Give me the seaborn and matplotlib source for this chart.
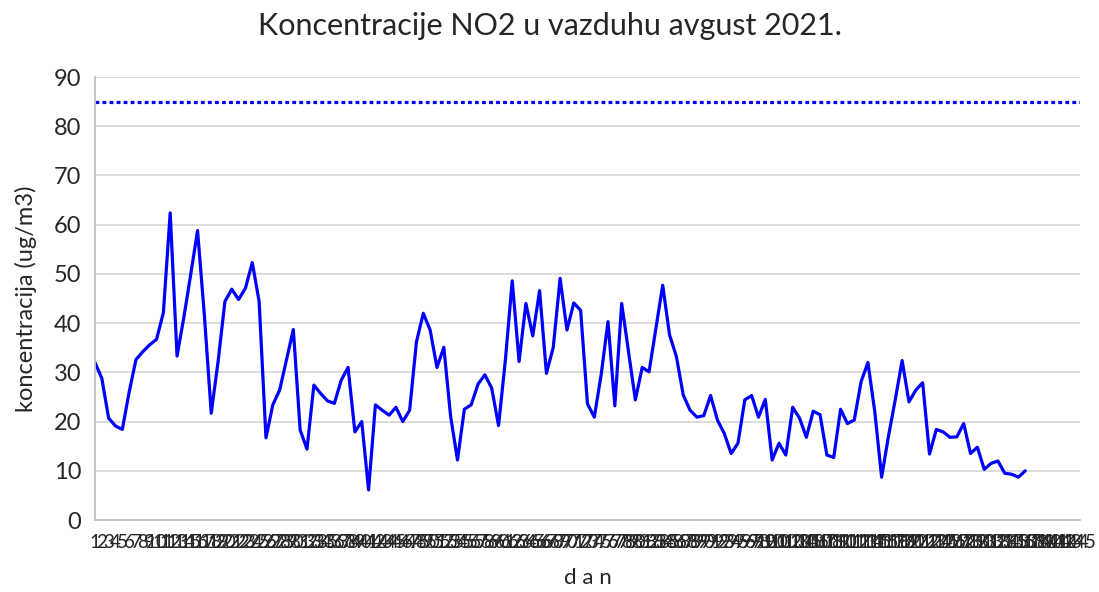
import numpy as np
import pandas as pd
import matplotlib
matplotlib.use("Agg")
import matplotlib.pyplot as plt
import seaborn as sns

# ── Data ─────────────────────────────────────────────────────────────────────
koncentracija = [
    32.0, 28.8, 20.7, 19.1, 18.4, 26.0, 32.6, 34.2, 35.6, 36.7,
    42.1, 62.4, 33.3, 41.2, 49.9, 58.8, 41.5, 21.7, 32.2, 44.4,
    46.9, 44.8, 47.1, 52.3, 44.4, 16.7, 23.4, 26.4, 32.6, 38.7,
    18.3, 14.4, 27.4, 25.7, 24.2, 23.7, 28.4, 31.0, 17.9, 20.0,
    6.1, 23.4, 22.3, 21.3, 22.9, 20.0, 22.3, 36.2, 42.0, 38.6,
    31.0, 35.1, 21.0, 12.2, 22.5, 23.4, 27.6, 29.5, 26.8, 19.2,
    32.5, 48.6, 32.2, 44.0, 37.4, 46.6, 29.8, 35.1, 49.1, 38.6,
    44.1, 42.6, 23.6, 20.9, 29.5, 40.3, 23.2, 44.0, 34.2, 24.4,
    31.0, 30.1, 38.9, 47.7, 37.6, 33.2, 25.4, 22.3, 20.9, 21.2,
    25.3, 20.3, 17.6, 13.5, 15.6, 24.4, 25.3, 20.9, 24.5, 12.2,
    15.6, 13.2, 22.9, 20.7, 16.8, 22.1, 21.4, 13.2, 12.7, 22.5,
    19.6, 20.3, 28.1, 32.0, 22.0, 8.7, 17.0, 24.5, 32.4, 24.0,
    26.4, 27.9, 13.4, 18.4, 17.9, 16.8, 16.9, 19.6, 13.5, 14.8,
    10.3, 11.5, 12.0, 9.5, 9.3, 8.7, 10.0,
]
dani = list(range(1, len(koncentracija) + 1))
kategorije = list(range(1, 146))          # category axis labels 1..145
granica = 85                              # limit value line
y_ticks = list(range(0, 91, 10))

df = pd.DataFrame({"dan": dani, "koncentracija": koncentracija})

# ── Style ────────────────────────────────────────────────────────────────────
sns.set_theme(style="white")
plt.rcParams["font.family"] = ["Lato", "DejaVu Sans"]

fig = plt.figure(figsize=(10.99, 5.92), dpi=100)
ax = fig.add_axes([0.0864, 0.1216, 0.8963, 0.7483])

sns.lineplot(data=df, x="dan", y="koncentracija", color="#0000FF",
             linewidth=2.3, ax=ax)
ax.axhline(granica, color="#0000FF", linewidth=2.3, linestyle=(0, (1.2, 1.0)))

ax.set_xlim(kategorije[0], kategorije[-1])
ax.set_ylim(0, 90)
ax.set_yticks(y_ticks)
ax.set_xticks(kategorije)
ax.set_xticklabels([str(k) for k in kategorije], fontsize=13.5, color="#262626")
ax.tick_params(axis="y", labelsize=17, length=0, pad=10, labelcolor="#262626")
ax.tick_params(axis="x", length=0, pad=10)

ax.yaxis.grid(True, color="#d9d9d9", linewidth=1.3)
ax.set_axisbelow(True)
for side in ["top", "right"]:
    ax.spines[side].set_visible(False)
for side in ["left", "bottom"]:
    ax.spines[side].set_color("#bfbfbf")
    ax.spines[side].set_linewidth(1.3)

ax.set_xlabel("d a n", fontsize=16, labelpad=12, color="#262626")
ax.set_ylabel("koncentracija (ug/m3)", fontsize=17, labelpad=12, color="#262626")
fig.suptitle("Koncentracije NO2 u vazduhu avgust 2021.", fontsize=22, y=0.98)

fig.savefig("out.png", dpi=100)
plt.close(fig)
